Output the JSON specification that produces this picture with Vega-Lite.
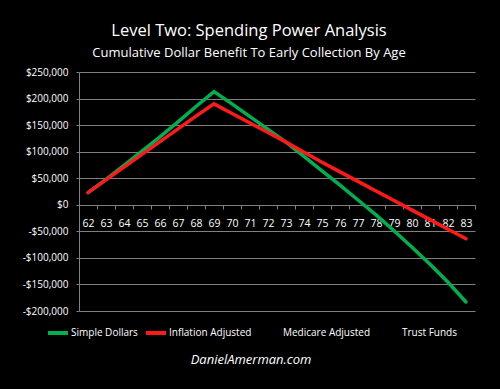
{
  "$schema": "https://vega.github.io/schema/vega-lite/v6.json",
  "width": 396,
  "height": 239,
  "autosize": {"type": "none"},
  "padding": {"left": 79, "top": 72, "right": 25, "bottom": 78},
  "background": "#000000",
  "title": {
    "text": "Level Two: Spending Power Analysis",
    "subtitle": "Cumulative Dollar Benefit To Early Collection By Age",
    "anchor": "middle",
    "dx": -28,
    "offset": 7,
    "font": "Open Sans",
    "fontSize": 16.5,
    "fontWeight": "normal",
    "color": "#ffffff",
    "subtitleFont": "Open Sans",
    "subtitleFontSize": 13,
    "subtitleColor": "#ffffff",
    "subtitlePadding": 8
  },
  "data": {
    "values": [
      {"age": 62, "series": "Simple Dollars", "value": 23000},
      {"age": 63, "series": "Simple Dollars", "value": 48000},
      {"age": 64, "series": "Simple Dollars", "value": 74000},
      {"age": 65, "series": "Simple Dollars", "value": 101000},
      {"age": 66, "series": "Simple Dollars", "value": 128000},
      {"age": 67, "series": "Simple Dollars", "value": 156000},
      {"age": 68, "series": "Simple Dollars", "value": 185000},
      {"age": 69, "series": "Simple Dollars", "value": 213000},
      {"age": 70, "series": "Simple Dollars", "value": 190000},
      {"age": 71, "series": "Simple Dollars", "value": 166000},
      {"age": 72, "series": "Simple Dollars", "value": 142000},
      {"age": 73, "series": "Simple Dollars", "value": 118000},
      {"age": 74, "series": "Simple Dollars", "value": 91000},
      {"age": 75, "series": "Simple Dollars", "value": 64000},
      {"age": 76, "series": "Simple Dollars", "value": 37000},
      {"age": 77, "series": "Simple Dollars", "value": 9000},
      {"age": 78, "series": "Simple Dollars", "value": -19000},
      {"age": 79, "series": "Simple Dollars", "value": -49000},
      {"age": 80, "series": "Simple Dollars", "value": -80000},
      {"age": 81, "series": "Simple Dollars", "value": -112000},
      {"age": 82, "series": "Simple Dollars", "value": -146000},
      {"age": 83, "series": "Simple Dollars", "value": -183000},
      {"age": 62, "series": "Inflation Adjusted", "value": 23000},
      {"age": 63, "series": "Inflation Adjusted", "value": 47000},
      {"age": 64, "series": "Inflation Adjusted", "value": 71000},
      {"age": 65, "series": "Inflation Adjusted", "value": 95000},
      {"age": 66, "series": "Inflation Adjusted", "value": 119000},
      {"age": 67, "series": "Inflation Adjusted", "value": 143000},
      {"age": 68, "series": "Inflation Adjusted", "value": 167000},
      {"age": 69, "series": "Inflation Adjusted", "value": 190000},
      {"age": 70, "series": "Inflation Adjusted", "value": 172000},
      {"age": 71, "series": "Inflation Adjusted", "value": 154000},
      {"age": 72, "series": "Inflation Adjusted", "value": 136000},
      {"age": 73, "series": "Inflation Adjusted", "value": 118000},
      {"age": 74, "series": "Inflation Adjusted", "value": 99000},
      {"age": 75, "series": "Inflation Adjusted", "value": 80000},
      {"age": 76, "series": "Inflation Adjusted", "value": 62000},
      {"age": 77, "series": "Inflation Adjusted", "value": 44000},
      {"age": 78, "series": "Inflation Adjusted", "value": 26000},
      {"age": 79, "series": "Inflation Adjusted", "value": 8000},
      {"age": 80, "series": "Inflation Adjusted", "value": -10000},
      {"age": 81, "series": "Inflation Adjusted", "value": -28000},
      {"age": 82, "series": "Inflation Adjusted", "value": -46000},
      {"age": 83, "series": "Inflation Adjusted", "value": -64000}
    ]
  },
  "mark": {"type": "line", "strokeWidth": 3.5, "strokeCap": "round", "strokeJoin": "miter"},
  "encoding": {
    "x": {
      "field": "age",
      "type": "ordinal",
      "bandPosition": 0.5,
      "scale": {"type": "band", "paddingInner": 0, "paddingOuter": 0},
      "axis": {
        "title": null,
        "orient": "bottom",
        "offset": -106,
        "tickBand": "extent",
        "tickSize": 4,
        "tickColor": "#808080",
        "domainColor": "#808080",
        "labelPadding": 9,
        "labelAngle": 0,
        "labelFont": "Open Sans",
        "labelFontSize": 10.5,
        "labelColor": "#ffffff",
        "grid": false
      }
    },
    "y": {
      "field": "value",
      "type": "quantitative",
      "scale": {"domain": [-200000, 250000], "nice": false, "zero": false},
      "axis": {
        "title": null,
        "values": [-200000, -150000, -100000, -50000, 0, 50000, 100000, 150000, 200000, 250000],
        "labelExpr": "datum.value < 0 ? '-$' + format(-datum.value, ',') : '$' + format(datum.value, ',')",
        "grid": true,
        "gridColor": "#808080",
        "gridWidth": 1,
        "domainColor": "#808080",
        "tickColor": "#808080",
        "tickSize": 3,
        "labelPadding": 8,
        "labelFont": "Open Sans",
        "labelFontSize": 10,
        "labelColor": "#ffffff"
      }
    },
    "color": {
      "field": "series",
      "type": "nominal",
      "scale": {
        "domain": ["Simple Dollars", "Inflation Adjusted", "Medicare Adjusted", "Trust Funds"],
        "range": ["#00b050", "#ff1a1a", "transparent", "transparent"]
      },
      "legend": {
        "orient": "none",
        "legendX": -33,
        "legendY": 249,
        "padding": 0,
        "direction": "horizontal",
        "columns": 4,
        "symbolType": "stroke",
        "symbolSize": 400,
        "symbolStrokeWidth": 4,
        "labelOffset": 1,
        "columnPadding": 0,
        "labelFont": "Open Sans",
        "labelFontSize": 10,
        "labelColor": "#ffffff",
        "labelLimit": 200,
        "title": "DanielAmerman.com",
        "titleOrient": "bottom",
        "titleAnchor": "middle",
        "titleFont": "Open Sans",
        "titleFontSize": 13,
        "titleFontStyle": "italic",
        "titleFontWeight": "normal",
        "titleColor": "#ffffff",
        "titlePadding": 13
      }
    }
  },
  "config": {"view": {"stroke": null}}
}
